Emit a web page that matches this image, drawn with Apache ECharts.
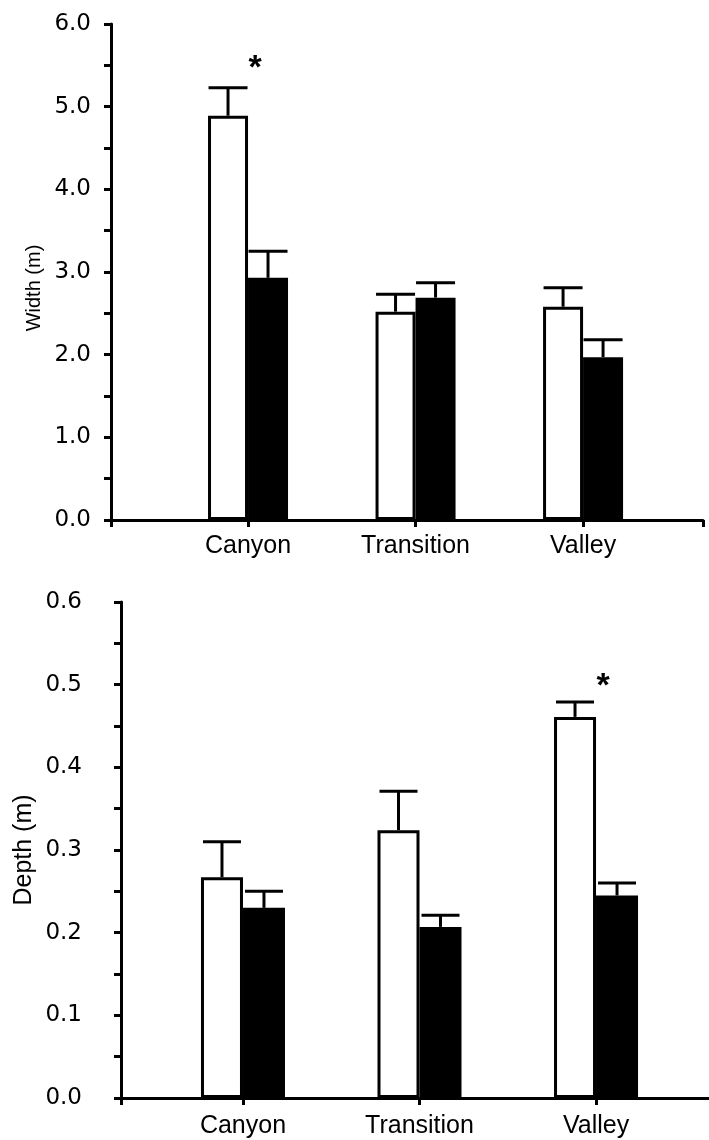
<!DOCTYPE html>
<html><head><meta charset="utf-8">
<script src="https://cdn.jsdelivr.net/npm/echarts@6/dist/echarts.min.js"></script>
<style>html,body{margin:0;padding:0;background:#fff}#c{width:709px;height:1140px}</style>
</head><body><div id="c"></div>
<script>
// ---- data ----
const categories = ['Canyon', 'Transition', 'Valley'];
const widthOpen = [4.89, 2.52, 2.58];
const widthOpenErr = [0.34, 0.21, 0.23];
const widthFilled = [2.93, 2.69, 1.97];
const widthFilledErr = [0.32, 0.18, 0.21];
const widthSig = [1, 0, 0];
const depthOpen = [0.267, 0.324, 0.461];
const depthOpenErr = [0.043, 0.047, 0.018];
const depthFilled = [0.230, 0.207, 0.245];
const depthFilledErr = [0.020, 0.014, 0.015];
const depthSig = [0, 0, 1];
const widthTicks = [0, 1, 2, 3, 4, 5, 6];
const depthTicks = [0, 0.1, 0.2, 0.3, 0.4, 0.5, 0.6];

const chart = echarts.init(document.getElementById('c'), null, {renderer: 'canvas'});
const NUM_FONT = 'DejaVu Sans';
const TXT_FONT = 'Liberation Sans';

function pts(vals) { return vals.map((v, i) => [i, v]); }
function errRows(vals, errs, side) { return vals.map((v, i) => [i, v, errs[i], side]); }
function sigRows(sig, a, ae, b, be) {
  const out = [];
  sig.forEach((s, i) => { if (s) out.push([i, Math.max(a[i] + ae[i], b[i] + be[i])]); });
  return out;
}

function errSeries(idx, rows, barW, capW) {
  return {
    type: 'custom', xAxisIndex: idx, yAxisIndex: idx, z: 5, silent: true,
    data: rows,
    renderItem: function (params, api) {
      const x = api.value(0), m = api.value(1), e = api.value(2), side = api.value(3);
      const b = api.coord([x, m]);
      const t = api.coord([x, m + e]);
      const cx = b[0] + side * barW / 2;
      return {type: 'group', children: [
        {type: 'line', shape: {x1: cx, y1: b[1], x2: cx, y2: t[1]}, style: {stroke: '#000', lineWidth: 3}},
        {type: 'line', shape: {x1: cx - capW / 2, y1: t[1], x2: cx + capW / 2, y2: t[1]}, style: {stroke: '#000', lineWidth: 3}}
      ]};
    }
  };
}
function sigSeries(idx, rows, dy) {
  return {
    type: 'custom', xAxisIndex: idx, yAxisIndex: idx, z: 6, silent: true,
    data: rows,
    renderItem: function (params, api) {
      const p = api.coord([api.value(0), api.value(1)]);
      return {type: 'text', x: p[0] + 7, y: p[1] - dy,
        style: {text: '*', fontSize: 34, fontWeight: 'bold', fontFamily: TXT_FONT, fill: '#000', align: 'center', verticalAlign: 'middle'}};
    }
  };
}

function yAxis(idx, ticks, margin, digits) {
  return {
    type: 'value', gridIndex: idx,
    min: ticks[0], max: ticks[ticks.length - 1], interval: ticks[1] - ticks[0],
    axisLine: {show: true, onZero: false, lineStyle: {color: '#000', width: 3}},
    axisTick: {show: true, length: 7, lineStyle: {color: '#000', width: 3}},
    minorTick: {show: true, splitNumber: 2, length: 7, lineStyle: {color: '#000', width: 3}},
    splitLine: {show: false}, minorSplitLine: {show: false},
    axisLabel: {margin: margin, color: '#000', fontFamily: NUM_FONT, fontSize: 23,
      formatter: v => v.toFixed(digits)}
  };
}
function xAxis(idx, min, max, tickVals, margin) {
  return {
    type: 'value', gridIndex: idx, min: min, max: max,
    axisLine: {show: true, onZero: false, lineStyle: {color: '#000', width: 3}},
    axisTick: {show: true, length: 7, customValues: tickVals, lineStyle: {color: '#000', width: 3}},
    splitLine: {show: false},
    axisLabel: {margin: margin, color: '#000', fontFamily: TXT_FONT, fontSize: 25,
      customValues: categories.map((c, i) => i),
      formatter: v => categories[Math.round(v)] || ''}
  };
}
function bar(idx, vals, filled, w) {
  return {
    type: 'bar', xAxisIndex: idx, yAxisIndex: idx, barWidth: w, barGap: '0%', z: 2,
    data: pts(vals),
    itemStyle: {color: filled ? '#000' : '#fff', borderColor: '#000', borderWidth: 3},
    silent: true
  };
}

const xMin0 = -0.818, xMax0 = 2.716, xMin1 = -0.691, xMax1 = 2.64;

chart.setOption({
  animation: false,
  backgroundColor: '#fff',
  grid: [
    {left: 111, top: 24, width: 592, height: 496},
    {left: 121, top: 602, width: 588, height: 496}
  ],
  xAxis: [
    xAxis(0, xMin0, xMax0, [xMin0, 0, 1, 2, xMax0], 14),
    xAxis(1, xMin1, xMax1, [xMin1, 0, 1, 2], 16)
  ],
  yAxis: [
    yAxis(0, widthTicks, 20, 1),
    yAxis(1, depthTicks, 39, 1)
  ],
  graphic: [
    {type: 'text', x: 34, y: 288, rotation: Math.PI / 2,
      style: {text: 'Width (m)', fontSize: 20, fontFamily: TXT_FONT, fill: '#000', align: 'center', verticalAlign: 'middle'}},
    {type: 'text', x: 24, y: 850, rotation: Math.PI / 2,
      style: {text: 'Depth (m)', fontSize: 25, fontFamily: TXT_FONT, fill: '#000', align: 'center', verticalAlign: 'middle'}}
  ],
  series: [
    bar(0, widthOpen, false, 40),
    bar(0, widthFilled, true, 40),
    errSeries(0, errRows(widthOpen, widthOpenErr, -1).concat(errRows(widthFilled, widthFilledErr, 1)), 40, 39),
    sigSeries(0, sigRows(widthSig, widthOpen, widthOpenErr, widthFilled, widthFilledErr), 19),
    bar(1, depthOpen, false, 42),
    bar(1, depthFilled, true, 42),
    errSeries(1, errRows(depthOpen, depthOpenErr, -1).concat(errRows(depthFilled, depthFilledErr, 1)), 42, 38),
    sigSeries(1, sigRows(depthSig, depthOpen, depthOpenErr, depthFilled, depthFilledErr), 15)
  ]
});
</script></body></html>
